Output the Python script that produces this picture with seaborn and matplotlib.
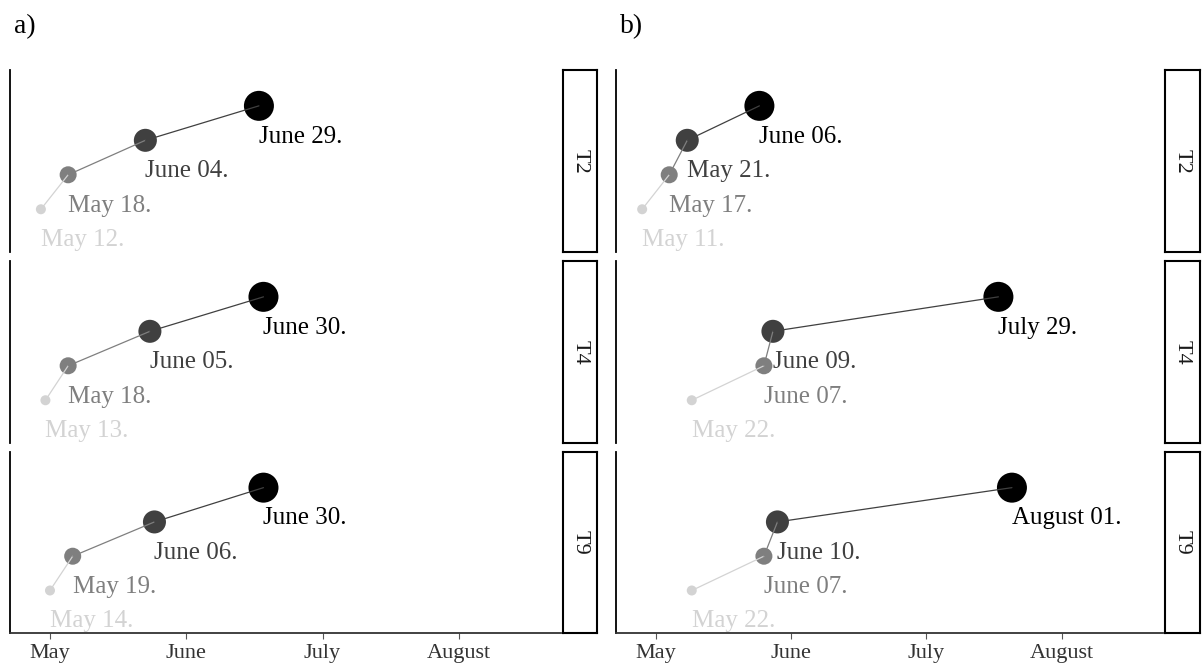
import numpy as np
import pandas as pd
import matplotlib
matplotlib.use("Agg")
import matplotlib.pyplot as plt
import seaborn as sns

sns.set_style("white")
plt.rcParams["font.family"] = ["Liberation Serif", "DejaVu Serif"]

# Phenological stage dates per treatment, two seasons/sites (panels a and b)
panel_names = ["a)", "b)"]
treatments = ["T2", "T4", "T9"]
stages = [1, 2, 3, 4]

a_T2 = ["2021-05-12", "2021-05-18", "2021-06-04", "2021-06-29"]
a_T4 = ["2021-05-13", "2021-05-18", "2021-06-05", "2021-06-30"]
a_T9 = ["2021-05-14", "2021-05-19", "2021-06-06", "2021-06-30"]
b_T2 = ["2021-05-11", "2021-05-17", "2021-05-21", "2021-06-06"]
b_T4 = ["2021-05-22", "2021-06-07", "2021-06-09", "2021-07-29"]
b_T9 = ["2021-05-22", "2021-06-07", "2021-06-10", "2021-08-01"]

# Month axis: day-of-year positions of the labelled breaks
tick_doy = [134, 164, 194, 224]
tick_labels = ["May", "June", "July", "August"]

stage_colors = {1: "#d3d3d3", 2: "#7f7f7f", 3: "#404040", 4: "#000000"}
stage_sizes = {1: 52, 2: 150, 3: 275, 4: 467}

series = {
    ("a)", "T2"): a_T2, ("a)", "T4"): a_T4, ("a)", "T9"): a_T9,
    ("b)", "T2"): b_T2, ("b)", "T4"): b_T4, ("b)", "T9"): b_T9,
}

rows = []
for (panel, trt), dates in series.items():
    for stage, d in zip(stages, dates):
        ts = pd.Timestamp(d)
        rows.append({
            "panel": panel, "treatment": trt, "stage": stage,
            "doy": ts.dayofyear, "label": ts.strftime("%B %d."),
        })
df = pd.DataFrame(rows)

W, H = 1202, 665
fig = plt.figure(figsize=(W / 100, H / 100), dpi=100)


def fig_rect(x0, y0, x1, y1):
    return [x0 / W, 1 - y1 / H, (x1 - x0) / W, (y1 - y0) / H]


panel_x = {"a)": (10, 561, 563, 597), "b)": (616, 1163, 1165, 1200)}
row_y = [(70, 252), (261, 443), (452, 633)]
title_pos = {"a)": 14, "b)": 620}

for panel in panel_names:
    ax0, ax1, sx0, sx1 = panel_x[panel]
    fig.text(title_pos[panel] / W, 1 - 33 / H, panel, fontsize=20,
             ha="left", va="baseline", color="black")
    for r, trt in enumerate(treatments):
        y0, y1 = row_y[r]
        ax = fig.add_axes(fig_rect(ax0, y0, ax1, y1))
        sub = df[(df.panel == panel) & (df.treatment == trt)].sort_values("stage")

        # connecting segments, each coloured by its starting stage
        seg_rows = []
        for i in range(len(sub) - 1):
            for j in (i, i + 1):
                seg_rows.append({"seg": i + 1, "doy": sub.iloc[j]["doy"],
                                 "stage": sub.iloc[j]["stage"]})
        seg_df = pd.DataFrame(seg_rows)
        sns.lineplot(data=seg_df, x="doy", y="stage", hue="seg",
                     palette={k: stage_colors[k] for k in (1, 2, 3)},
                     units="seg", estimator=None, sort=False, legend=False,
                     linewidth=0.9, ax=ax, zorder=3)

        sns.scatterplot(data=sub, x="doy", y="stage", hue="stage", size="stage",
                        palette=stage_colors, sizes=stage_sizes, legend=False,
                        linewidth=0, ax=ax, zorder=2)

        for _, row in sub.iterrows():
            ax.text(row["doy"], row["stage"] - 1.07, row["label"],
                    color=stage_colors[row["stage"]], fontsize=18,
                    ha="left", va="baseline", zorder=4)

        ax.set_xlim(125.2, 246.5)
        ax.set_ylim(-0.24, 5.04)
        ax.set_xlabel("")
        ax.set_ylabel("")
        ax.set_yticks([])
        for s in ("top", "right"):
            ax.spines[s].set_visible(False)
        ax.spines["left"].set_color("black")
        ax.spines["left"].set_linewidth(1.3)
        if r == len(treatments) - 1:
            ax.spines["bottom"].set_color("#333333")
            ax.spines["bottom"].set_linewidth(1.3)
            ax.set_xticks(tick_doy)
            ax.set_xticklabels(tick_labels, fontsize=16, color="#333333")
            ax.tick_params(axis="x", length=4, width=0.8, color="#555555",
                           pad=4, bottom=True)
        else:
            ax.spines["bottom"].set_visible(False)
            ax.set_xticks([])

        # facet strip on the right
        sax = fig.add_axes(fig_rect(sx0, y0, sx1, y1))
        sax.set_xticks([])
        sax.set_yticks([])
        for s in sax.spines.values():
            s.set_visible(True)
            s.set_color("black")
            s.set_linewidth(1.5)
        sax.text(0.5, 0.5, trt, rotation=270, ha="center", va="center",
                 fontsize=16, color="#1a1a1a", transform=sax.transAxes)

fig.savefig("out.png", dpi=100)
